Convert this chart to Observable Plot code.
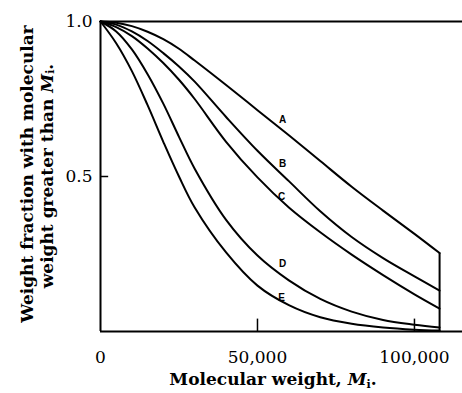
<!DOCTYPE html>
<html>
<head>
<meta charset="utf-8">
<script src="https://cdn.jsdelivr.net/npm/d3@7"></script>
<script src="https://cdn.jsdelivr.net/npm/@observablehq/plot@0.6"></script>
<style>
  html, body { margin: 0; padding: 0; background: #fff; }
</style>
</head>
<body>
<div id="chart"></div>
<script>
// Molecular weight values (x)
const M = [0, 5000, 10000, 15000, 20000, 25000, 30000, 40000, 50000, 60000, 70000, 80000, 90000, 100000, 108000];
// Weight fraction with molecular weight greater than Mi, per curve
const A = [1.0, 0.996, 0.985, 0.967, 0.943, 0.912, 0.874, 0.795, 0.714, 0.633, 0.550, 0.467, 0.390, 0.315, 0.253];
const B = [1.0, 0.990, 0.968, 0.937, 0.898, 0.855, 0.806, 0.692, 0.583, 0.485, 0.388, 0.305, 0.237, 0.178, 0.132];
const C = [1.0, 0.982, 0.953, 0.913, 0.866, 0.812, 0.750, 0.612, 0.497, 0.400, 0.320, 0.248, 0.182, 0.120, 0.074];
const D = [1.0, 0.968, 0.910, 0.830, 0.735, 0.628, 0.525, 0.360, 0.245, 0.165, 0.105, 0.064, 0.037, 0.022, 0.013];
const E = [1.0, 0.930, 0.840, 0.730, 0.612, 0.500, 0.400, 0.255, 0.148, 0.085, 0.046, 0.025, 0.013, 0.006, 0.003];
const seriesNames = ["A", "B", "C", "D", "E"];
const seriesValues = [A, B, C, D, E];
// Curve label positions
const labelX = [58000, 58000, 57700, 58000, 57700];
const labelY = [0.684, 0.542, 0.435, 0.219, 0.110];
// Axis ticks
const xTicks = [0, 50000, 100000];
const yTicks = [0.5, 1.0];
const xMax = 115300;
const rightEdge = 108000;

const rows = seriesNames.flatMap((s, i) => M.map((m, j) => ({series: s, m, w: seriesValues[i][j]})));
const labels = seriesNames.map((s, i) => ({s, x: labelX[i], y: labelY[i]}));

const plot = Plot.plot({
  width: 462,
  height: 393,
  marginLeft: 100,
  marginRight: 0,
  marginTop: 21,
  marginBottom: 62,
  x: {domain: [0, xMax]},
  y: {domain: [0, 1]},
  style: {fontFamily: "'DejaVu Serif', serif", fontSize: "17px", background: "#fff", color: "#000"},
  marks: [
    Plot.axisX(xTicks, {tickSize: 0, tickPadding: 19, tickFormat: d3.format(","), label: null, fontSize: 17}),
    Plot.axisY(yTicks, {tickSize: 0, tickPadding: 8, tickFormat: d3.format(".1f"), label: null, fontSize: 17}),
    Plot.ruleX(xTicks.slice(1), {x: d => d, y1: 0, y2: 0.04, stroke: "#000", strokeWidth: 1.5}),
    Plot.ruleY(yTicks.slice(0, 1), {y: d => d, x1: 0, x2: 2600, stroke: "#000", strokeWidth: 1.5}),
    Plot.ruleY([0, 1], {stroke: "#000", strokeWidth: 2}),
    Plot.ruleX([0], {stroke: "#000", strokeWidth: 2}),
    Plot.ruleX([rightEdge], {y1: 0, y2: A[A.length - 1], stroke: "#000", strokeWidth: 2}),
    Plot.line(rows, {x: "m", y: "w", z: "series", curve: "catmull-rom", stroke: "#000", strokeWidth: 2}),
    Plot.text(labels, {x: "x", y: "y", text: "s", fontFamily: "'Liberation Sans', Arial, sans-serif", fontWeight: "bold", fontSize: 10, fill: "#000"})
  ]
});

document.getElementById("chart").appendChild(plot);

const svg = d3.select(plot);
// Y axis title (two rotated lines)
svg.append("text")
  .attr("transform", "translate(28,174) rotate(-90)")
  .attr("text-anchor", "middle").attr("dominant-baseline", "middle")
  .attr("font-family", "'DejaVu Serif', serif").attr("font-weight", "bold").attr("font-size", 17)
  .attr("fill", "#000")
  .text("Weight fraction with molecular");
const yl2 = svg.append("text")
  .attr("transform", "translate(48,176) rotate(-90)")
  .attr("text-anchor", "middle").attr("dominant-baseline", "middle")
  .attr("font-family", "'DejaVu Serif', serif").attr("font-weight", "bold").attr("font-size", 17)
  .attr("fill", "#000");
yl2.append("tspan").text("weight greater than ");
yl2.append("tspan").attr("font-style", "italic").text("M");
yl2.append("tspan").attr("font-size", 11).attr("dy", "0.3em").text("i");
yl2.append("tspan").attr("dy", "-0.2em").text(".");

// X axis title
const xl = svg.append("text")
  .attr("x", 273).attr("y", 385)
  .attr("text-anchor", "middle")
  .attr("font-family", "'DejaVu Serif', serif").attr("font-weight", "bold").attr("font-size", 17)
  .attr("fill", "#000");
xl.append("tspan").text("Molecular weight, ");
xl.append("tspan").attr("font-style", "italic").text("M");
xl.append("tspan").attr("font-size", 11).attr("dy", "0.3em").text("i");
xl.append("tspan").attr("dy", "-0.2em").text(".");
</script>
</body>
</html>
